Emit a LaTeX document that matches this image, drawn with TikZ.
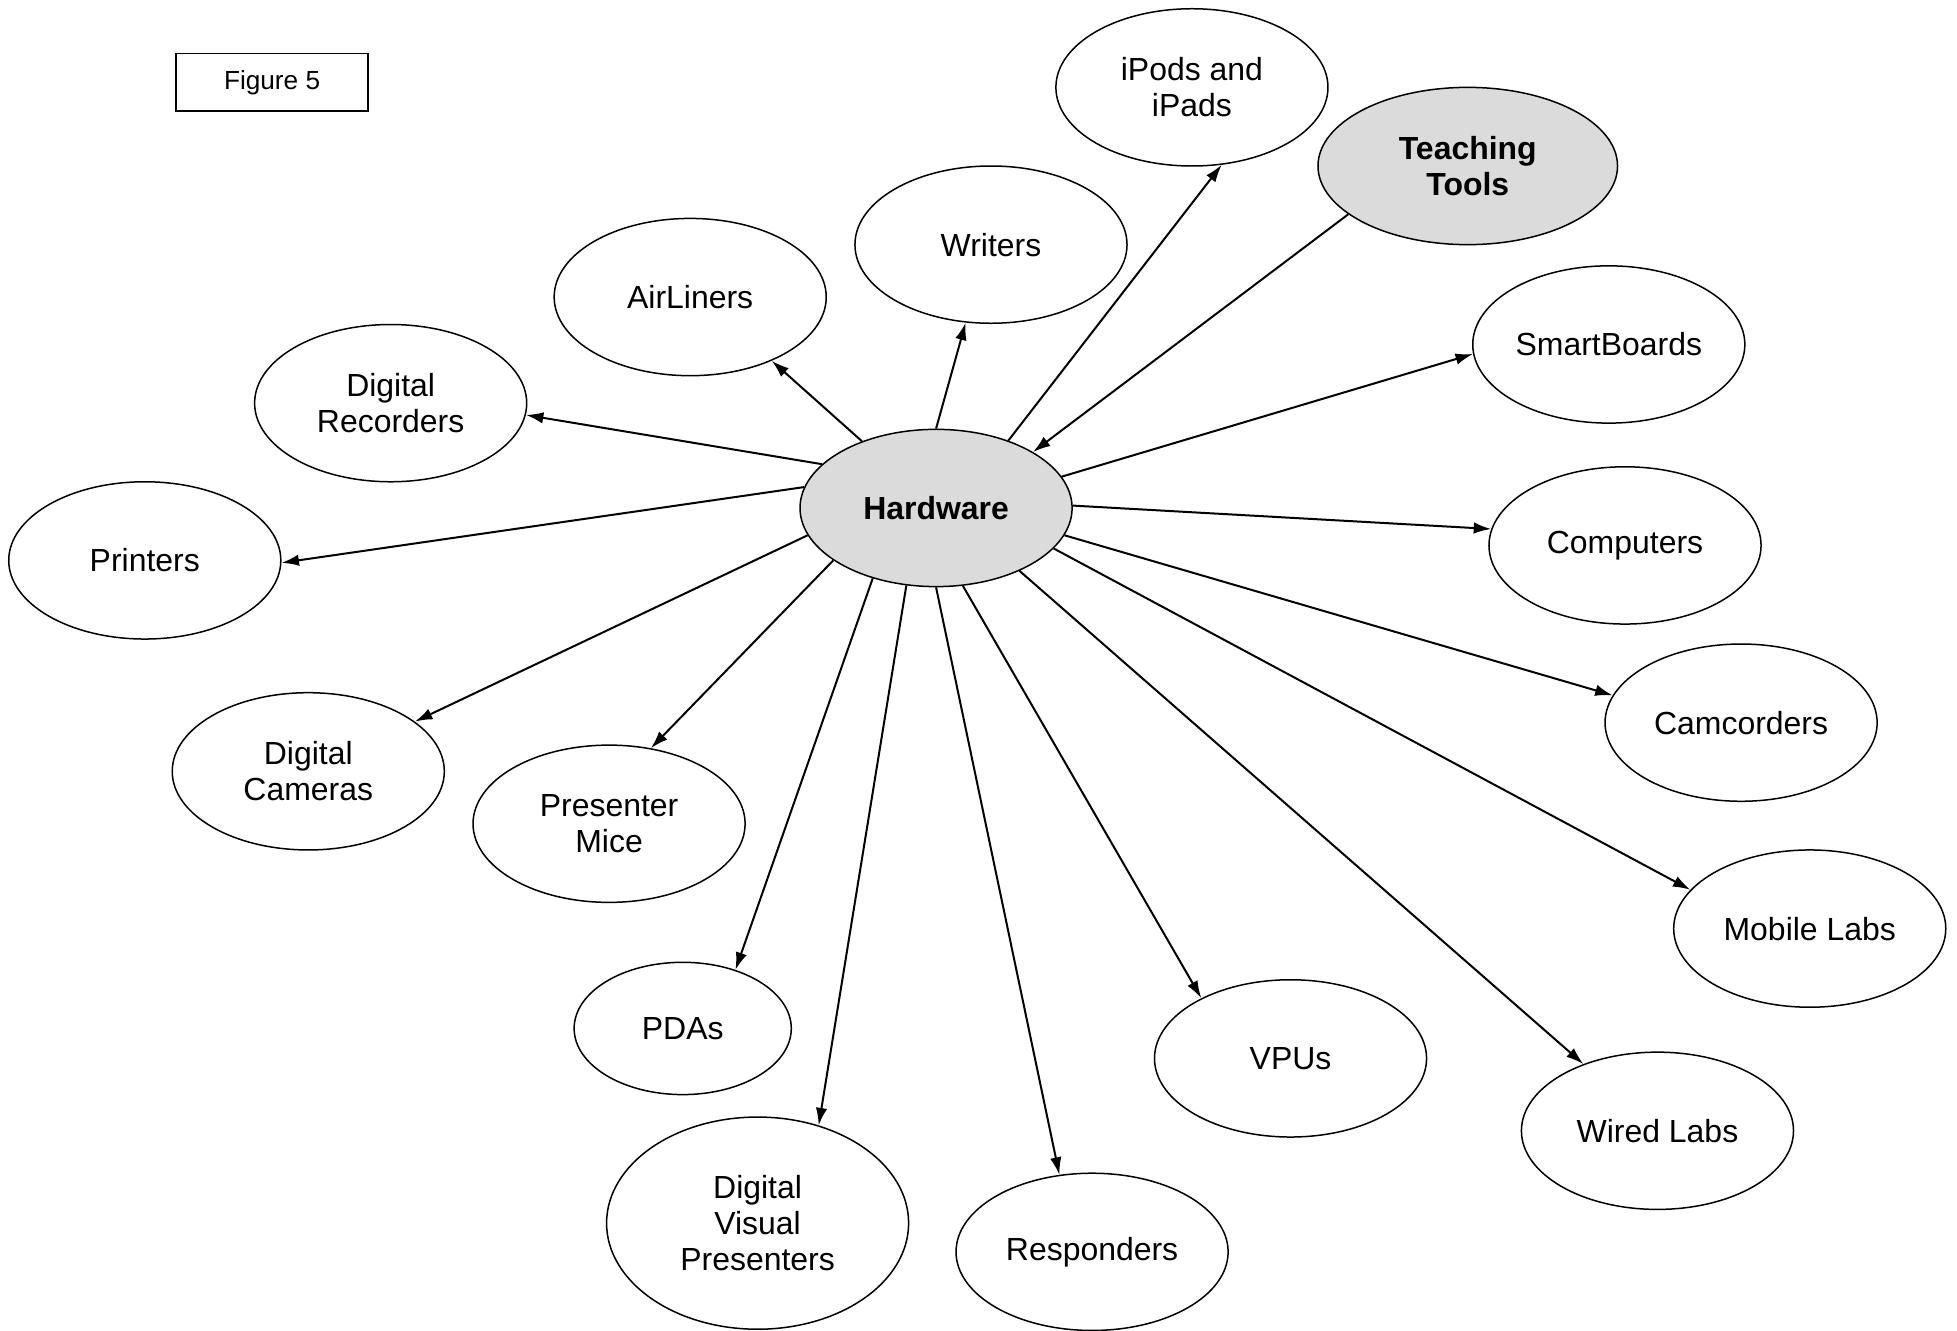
\documentclass[tikz,border=0pt]{standalone}
\usepackage{fontspec}
\setmainfont{Liberation Sans}
\usetikzlibrary{arrows.meta,shapes.geometric}

\begin{document}
\begin{tikzpicture}[x=0.5pt,y=-0.5pt,->,>={Latex[length=7pt,width=4.6pt]},thick,
    font=\fontsize{12.8}{14.5}\selectfont]
          \tikzset{every ellipse/.style={ellipse,draw=black,semithick,fill=white,text=black,
              inner sep=0pt,minimum width=109pt,minimum height=63pt,align=center},
              hub/.style={every ellipse,fill=hubgray,font=\fontsize{12.8}{14.5}\selectfont\bfseries}}
          \definecolor{hubgray}{gray}{0.86}
          \useasboundingbox (0,0) rectangle (1568,1066);
          \node[draw,semithick,minimum width=77pt,minimum height=23pt,
                font=\fontsize{10.5}{12}\selectfont] (fig) at (218,66) {Figure 5};

          \node[hub]          (hw)    at (750,407)  {Hardware};
          \node[hub,minimum width=120pt] (tools) at (1176,133) {Teaching\\Tools};
          \node[every ellipse] (ipods) at (955,70)   {iPods and\\iPads};
          \node[every ellipse] (wri)   at (794,196)  {Writers};
          \node[every ellipse] (air)   at (553,238)  {AirLiners};
          \node[every ellipse] (rec)   at (313,323)  {Digital\\Recorders};
          \node[every ellipse] (smart) at (1289,276) {SmartBoards};
          \node[every ellipse] (prn)   at (116,449)  {Printers};
          \node[every ellipse] (comp)  at (1302,437) {Computers};
          \node[every ellipse] (cam)   at (1395,579) {Camcorders};
          \node[every ellipse] (dcam)  at (247,618)  {Digital\\Cameras};
          \node[every ellipse] (mice)  at (488,660)  {Presenter\\Mice};
          \node[every ellipse] (mob)   at (1450,744) {Mobile Labs};
          \node[every ellipse,minimum width=87pt,minimum height=53pt] (pda) at (547,824) {PDAs};
          \node[every ellipse] (vpu)   at (1034,848) {VPUs};
          \node[every ellipse] (wired) at (1328,906) {Wired Labs};
          \node[every ellipse,minimum width=121pt,minimum height=85pt] (dvp) at (607,980) {Digital\\Visual\\Presenters};
          \node[every ellipse] (resp)  at (875,1003) {Responders};

          \path (hw.159)    edge (rec.-5)
                (hw.138)    edge (air.-38)
                (hw.90)     edge (wri.-108)
                (hw.43)     edge (ipods.-69)
                (tools.-158) edge (hw.30)
                (hw.14)     edge (smart.-176)
                (hw.1)      edge (comp.173)
                (hw.-12)    edge (cam.168)
                (hw.-19)    edge (mob.162)
                (hw.-37)    edge (wired.138)
                (hw.-71)    edge (vpu.146)
                (hw.-90)    edge (resp.113)
                (hw.-111)   edge (dvp.58)
                (hw.-132)   edge (pda.48)
                (hw.-153)   edge (mice.61)
                (hw.-168)   edge (dcam.25)
                (hw.171)    edge (prn.-1);
        \end{tikzpicture}
\end{document}
